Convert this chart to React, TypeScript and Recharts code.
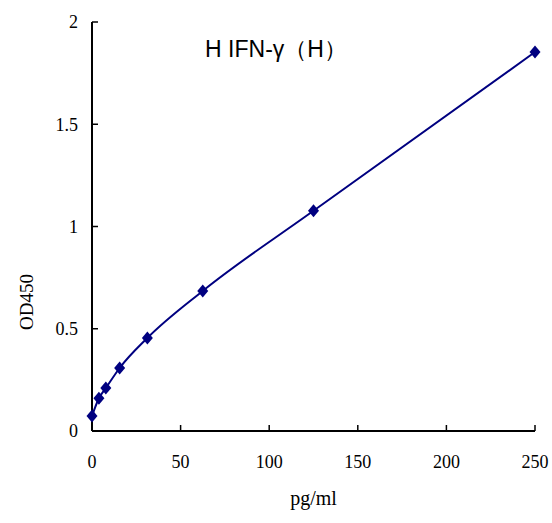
import React from "react";
import { LineChart, Line, XAxis, YAxis, Label } from "recharts";

const concentrations = [0, 3.9, 7.8, 15.6, 31.25, 62.5, 125, 250];
const od450 = [0.073, 0.16, 0.21, 0.308, 0.455, 0.685, 1.077, 1.853];
const xTicks = [0, 50, 100, 150, 200, 250];
const yTicks = [0, 0.5, 1, 1.5, 2];

const data = concentrations.map((c, i) => ({ conc: c, od: od450[i] }));

const NAVY = "#000080";
const SERIF = "'Liberation Serif', serif";
const tickFont = { fontFamily: SERIF, fontSize: 18, fill: "#000" };

const Diamond = (props: any) => {
  const { cx, cy } = props;
  if (cx == null || cy == null) return null;
  return (
    <polygon
      points={`${cx},${cy - 6.5} ${cx + 5.5},${cy} ${cx},${cy + 6.5} ${cx - 5.5},${cy}`}
      fill={NAVY}
    />
  );
};

// y-axis title sits a bit below the middle of the axis, as in the original
const YTitle = () => (
  <text
    x={33}
    y={302}
    transform="rotate(-90 33 302)"
    textAnchor="middle"
    fontFamily={SERIF}
    fontSize={19}
    fill="#000"
  >
    OD450
  </text>
);

export default function App() {
  return (
    <div style={{ position: "absolute", left: 0, top: 0, width: 552, height: 523, background: "#fff" }}>
      <div
        style={{
          position: "absolute",
          left: 0,
          width: 552,
          top: 34,
          textAlign: "center",
          fontFamily: "'Liberation Sans', Arial, sans-serif",
          fontSize: 23,
          color: "#000",
          pointerEvents: "none",
        }}
      >
        H IFN-γ（H）
      </div>
      <LineChart width={552} height={523} data={data} margin={{ top: 22, right: 17, bottom: 32, left: 0 }}>
        <XAxis
          dataKey="conc"
          type="number"
          domain={[0, 250]}
          ticks={xTicks}
          height={60}
          axisLine={{ stroke: "#000", strokeWidth: 2 }}
          tickLine={{ stroke: "#000", strokeWidth: 1.5 }}
          tickSize={-6}
          tickMargin={30}
          tick={tickFont}
        >
          <Label
            value="pg/ml"
            position="insideBottom"
            offset={-14}
            style={{ fontFamily: SERIF, fontSize: 20, fill: "#000" }}
          />
        </XAxis>
        <YAxis
          type="number"
          domain={[0, 2]}
          ticks={yTicks}
          width={92}
          axisLine={{ stroke: "#000", strokeWidth: 2 }}
          tickLine={{ stroke: "#000", strokeWidth: 1.5 }}
          tickSize={-6}
          tickMargin={20}
          tick={tickFont}
        >
          <Label content={<YTitle />} />
        </YAxis>
        <Line
          type="monotone"
          dataKey="od"
          stroke={NAVY}
          strokeWidth={2}
          dot={<Diamond />}
          activeDot={false}
          isAnimationActive={false}
        />
      </LineChart>
    </div>
  );
}
